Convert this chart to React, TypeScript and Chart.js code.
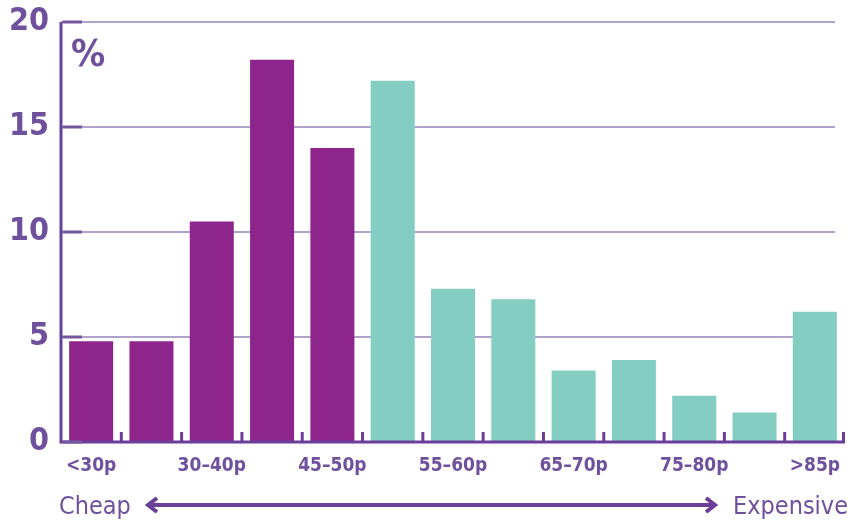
import React, { useEffect, useRef } from 'react';
import { Chart, registerables } from 'chart.js';
Chart.register(...registerables);

const categories = ['<30p', '30p', '30–40p', '40–45p', '45–50p', '50–55p', '55–60p', '60–65p', '65–70p', '70–75p', '75–80p', '80–85p', '>85p'];
const shares = [4.8, 4.8, 10.5, 18.2, 14.0, 17.2, 7.3, 6.8, 3.4, 3.9, 2.2, 1.4, 6.2];
const cheapCount = 5;
const yTicks = [0, 5, 10, 15, 20];
const unitLabel = '%';
const leftLabel = 'Cheap';
const rightLabel = 'Expensive';

const PURPLE = '#8e258d';
const TEAL = '#83cdc2';
const TEXT = '#6f509d';
const AXIS = '#6a3f99';
const TICKMARK = '#74579f';
const GRID = '#b1a2cc';
const FONT = "'Liberation Sans Narrow', 'DejaVu Sans Condensed', 'Arial Narrow', sans-serif";

const barColors = shares.map((_, i) => (i < cheapCount ? PURPLE : TEAL));

const decor = {
  id: 'decor',
  beforeDatasetsDraw(chart: any) {
    const { ctx, chartArea, scales } = chart;
    const y = scales.y;
    ctx.save();
    ctx.strokeStyle = GRID;
    ctx.lineWidth = 2;
    ctx.beginPath();
    yTicks.forEach((v) => {
      if (v === 0) return;
      const py = y.getPixelForValue(v);
      ctx.moveTo(chartArea.left, py);
      ctx.lineTo(chartArea.right - 10, py);
    });
    ctx.stroke();
    ctx.restore();
  },
  afterDatasetsDraw(chart: any) {
    const { ctx, chartArea, scales } = chart;
    const x = scales.x;
    const y = scales.y;
    ctx.save();
    ctx.strokeStyle = AXIS;
    ctx.lineWidth = 3;
    // axes
    ctx.beginPath();
    ctx.moveTo(chartArea.left, chartArea.bottom);
    ctx.lineTo(chartArea.right, chartArea.bottom);
    ctx.moveTo(chartArea.left, chartArea.bottom + 1.5);
    ctx.lineTo(chartArea.left, chartArea.top);
    ctx.stroke();
    // x boundary ticks
    const half = (x.getPixelForValue(1) - x.getPixelForValue(0)) / 2;
    ctx.beginPath();
    for (let i = 0; i < categories.length; i++) {
      const px = Math.min(x.getPixelForValue(i) + half, chartArea.right - 1.5);
      ctx.moveTo(px, chartArea.bottom);
      ctx.lineTo(px, chartArea.bottom - 10);
    }
    ctx.stroke();
    // y inner ticks
    ctx.strokeStyle = TICKMARK;
    ctx.beginPath();
    yTicks.forEach((v) => {
      const py = y.getPixelForValue(v);
      ctx.moveTo(chartArea.left + 1.5, py);
      ctx.lineTo(chartArea.left + 21, py);
    });
    ctx.stroke();
    // unit
    ctx.fillStyle = TEXT;
    ctx.strokeStyle = AXIS;
    ctx.font = `bold 38px ${FONT}`;
    ctx.textBaseline = 'alphabetic';
    ctx.textAlign = 'left';
    ctx.fillText(unitLabel, chartArea.left + 10, 66);
    // bottom arrow and labels
    ctx.font = `25px ${FONT}`;
    ctx.fillText(leftLabel, 59, 514);
    ctx.textAlign = 'right';
    ctx.fillText(rightLabel, 848, 514);
    const ay = 505;
    const x1 = 146;
    const x2 = 717;
    ctx.lineWidth = 4;
    ctx.beginPath();
    ctx.moveTo(x1 + 3, ay);
    ctx.lineTo(x2 - 3, ay);
    ctx.stroke();
    ctx.lineJoin = 'miter';
    ctx.beginPath();
    ctx.moveTo(x1 + 11, ay - 7);
    ctx.lineTo(x1 + 2, ay);
    ctx.lineTo(x1 + 11, ay + 7);
    ctx.moveTo(x2 - 11, ay - 7);
    ctx.lineTo(x2 - 2, ay);
    ctx.lineTo(x2 - 11, ay + 7);
    ctx.stroke();
    ctx.restore();
  },
};

export default function App() {
  const ref = useRef<HTMLCanvasElement>(null);
  useEffect(() => {
    if (!ref.current) return;
    const chart = new Chart(ref.current, {
      type: 'bar',
      data: {
        labels: categories,
        datasets: [
          {
            data: shares,
            backgroundColor: barColors,
            borderWidth: 0,
            barPercentage: 0.73,
            categoryPercentage: 1,
          },
        ],
      },
      options: {
        animation: false,
        responsive: true,
        maintainAspectRatio: false,
        layout: { padding: { top: 22, right: 19, left: 0, bottom: 0 } },
        plugins: { legend: { display: false }, tooltip: { enabled: false } },
        scales: {
          x: {
            grid: { display: false, drawTicks: false },
            border: { display: false },
            afterFit: (s: any) => {
              s.height = 78;
              s.paddingLeft = 0;
              s.paddingRight = 0;
            },
            ticks: {
              autoSkip: false,
              maxRotation: 0,
              padding: 13,
              color: TEXT,
              font: { family: FONT, size: 19, weight: 'bold' },
              callback: (_v: any, i: number) => (i % 2 === 0 ? categories[i] : ''),
            },
          },
          y: {
            min: 0,
            max: 20,
            afterFit: (s: any) => {
              s.width = 61;
              s.paddingTop = 0;
              s.paddingBottom = 0;
            },
            afterBuildTicks: (s: any) => {
              s.ticks = yTicks.map((v) => ({ value: v }));
            },
            grid: { display: false, drawTicks: false },
            border: { display: false },
            ticks: {
              padding: 12,
              color: TEXT,
              font: { family: FONT, size: 32, weight: 'bold' },
            },
          },
        },
      },
      plugins: [decor],
    });
    return () => chart.destroy();
  }, []);
  return (
    <div style={{ position: 'fixed', left: 0, top: 0, width: 864, height: 520, background: '#fff' }}>
      <canvas ref={ref} />
    </div>
  );
}
